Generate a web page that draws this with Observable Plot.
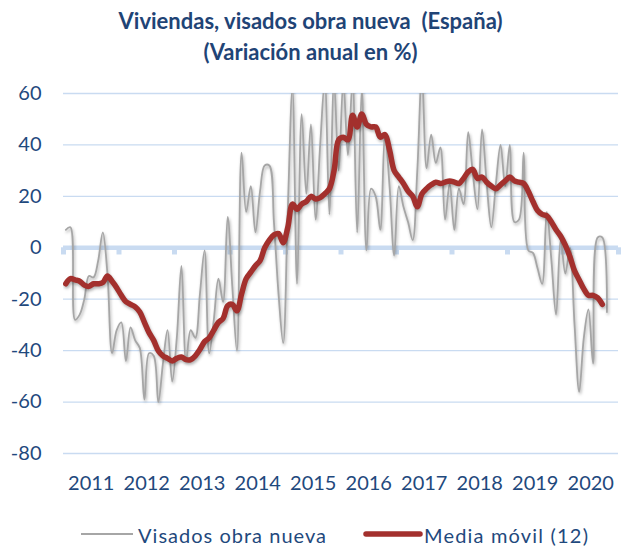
<!DOCTYPE html>
<html>
<head>
<meta charset="utf-8">
<script src="https://cdn.jsdelivr.net/npm/d3@7"></script>
<script src="https://cdn.jsdelivr.net/npm/@observablehq/plot@0.6"></script>
<style>
  html, body { margin: 0; padding: 0; background: #fff; }
  #page { position: relative; width: 621px; height: 552px; overflow: hidden; font-family: Lato, "Open Sans", sans-serif; }
  #title { position: absolute; top: 5px; left: 0; width: 621px; text-align: center; font-weight: bold; font-size: 22px; line-height: 31px; color: #1F4476; }
  #chart { position: absolute; top: 75px; left: 0; }
  #legend { position: absolute; top: 515px; left: 0; }
</style>
</head>
<body>
<div id="page">
  <div id="title">Viviendas, visados obra nueva&nbsp; (España)<br>(Variación anual en %)</div>
  <div id="chart"></div>
  <svg id="legend" width="621" height="37"></svg>
</div>
<script>
// ---- data (monthly, Jan 2011 – Oct 2020) ----
const startYear = 2011;
const visados = [
  7, 8, -28, -26, -20, -11, -11.5, -5, 6, -10,
  -41, -32, -29, -44, -31, -36, -39, -59, -41, -42,
  -60, -45, -32, -52, -35, -7, -44, -32, -35, -18,
  -1, -41, -28, -12, -21, 12, -15, -40, 37, 14,
  24, 6, 22, 32, 32, 10, -18, -37, 15, 62,
  -14, 52, 21, 48, 11, 40, 65, 13, 65, 30,
  65, 36, 65, 6, 62, -1, 23, 20, 7, 44,
  24, -3, 24, 16, 10, 3, 30, 68, 31, 44,
  33, 39, 11, 25, 7, 23, 17, 45, 29, 15,
  46, 25, 8, 25, 40, 24, 40, 10, 11, 37,
  -1, -2, -8, -14, 14, -5, -26, 3, -10, 0,
  -30, -56, -35, -24, -45, 4, 4, -25
];
const mediaMovil = [
  -14, -12, -12.5, -13, -14.5, -15, -14, -14, -13.5, -11,
  -13, -15.5, -18.5, -21, -22, -23, -25, -29, -33, -36,
  -40, -42, -43, -44, -43, -42.5, -43.5, -43.5, -42, -39.5,
  -36.5, -35, -32, -29, -27.5, -22.5, -22, -24.5, -18, -12,
  -9.5, -7, -5, 0, 3, 5, 5.5, 2, 8, 17,
  15, 17, 18, 20, 19, 19.5, 21, 23, 30, 42,
  43, 42, 51.5, 47, 52, 48, 47, 47, 43, 44,
  38, 30, 27.5, 25, 22, 20, 16, 21, 23, 24.5,
  25.5, 25, 25.5, 26, 25.5, 25, 27, 29.5, 30.5, 27,
  27.5, 25.5, 24, 23, 24.5, 26, 27.5, 26, 25.5, 25,
  22, 18, 14.5, 13, 12.5, 10, 7, 4.5, 1, -3.5,
  -9, -12.5, -16, -18.5, -18.5, -19.5, -22
];
const yTicks = [60, 40, 20, 0, -20, -40, -60, -80];
const yearLabels = [2011, 2012, 2013, 2014, 2015, 2016, 2017, 2018, 2019, 2020];
const seriesNames = ["Visados obra nueva", "Media móvil (12)"];

// ---- styles ----
const navy = "#1F497D";
const gridColor = "#C9DBF1";
const greyLine = "#A6A6A6";
const redLine = "#A3302D";

const rows = visados.map((v, i) => ({t: startYear + (i + 0.5) / 12, v, m: mediaMovil[i]}));
const boundaries = [...yearLabels, yearLabels[yearLabels.length - 1] + 1];

const chart = Plot.plot({
  width: 621,
  height: 430,
  marginLeft: 63,
  marginRight: 3,
  marginTop: 18,
  marginBottom: 52,
  style: {fontFamily: "Lato, 'Open Sans', sans-serif", background: "transparent"},
  x: {domain: [boundaries[0], boundaries[boundaries.length - 1]], label: null},
  y: {domain: [yTicks[yTicks.length - 1], yTicks[0]], label: null},
  marks: [
    Plot.gridY(yTicks.filter(d => d !== 0), {stroke: gridColor, strokeOpacity: 1, strokeWidth: 1.3}),
    Plot.ruleX(boundaries, {y1: 0, y2: -2.8, stroke: gridColor, strokeWidth: 5}),
    Plot.ruleY([0], {stroke: gridColor, strokeWidth: 4.5}),
    Plot.line(rows, {x: "t", y: "v", stroke: greyLine, strokeWidth: 1.8, curve: "catmull-rom", clip: true}),
    Plot.line(rows, {x: "t", y: "m", stroke: redLine, strokeWidth: 5.5, curve: "catmull-rom", clip: true}),
    Plot.axisY(yTicks, {tickSize: 0, tickPadding: 22, fontSize: 20, fill: navy, label: null, tickFormat: d => String(d)}),
    Plot.axisX(yearLabels.map(y => y + 0.5), {tickSize: 0, tickPadding: 22, fontSize: 20, fill: navy, label: null, tickFormat: d => String(Math.floor(d))})
  ]
});
chart.querySelectorAll('g[aria-label="line"]').forEach(g => {
  g.style.filter = "drop-shadow(1.5px 2px 1.5px rgba(0,0,0,0.3))";
});
document.getElementById("chart").appendChild(chart);

// ---- legend ----
const lg = d3.select("#legend");
const ly = 19; // swatch centre within legend svg
lg.append("line").attr("x1", 81).attr("x2", 133).attr("y1", ly).attr("y2", ly)
  .attr("stroke", greyLine).attr("stroke-width", 2);
lg.append("text").attr("x", 138).attr("y", ly + 9).attr("fill", navy)
  .attr("font-family", "Lato, sans-serif").attr("font-size", 20)
  .attr("textLength", 188).attr("lengthAdjust", "spacing").text(seriesNames[0]);
lg.append("line").attr("x1", 366).attr("x2", 420).attr("y1", ly).attr("y2", ly)
  .attr("stroke", redLine).attr("stroke-width", 5.5).attr("stroke-linecap", "round");
lg.append("text").attr("x", 424).attr("y", ly + 9).attr("fill", navy)
  .attr("font-family", "Lato, sans-serif").attr("font-size", 20)
  .attr("textLength", 164).attr("lengthAdjust", "spacing").text(seriesNames[1]);
</script>
</body>
</html>
